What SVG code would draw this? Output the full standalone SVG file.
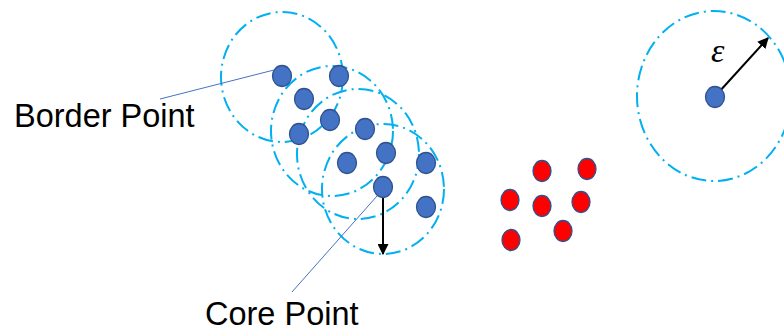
<svg xmlns="http://www.w3.org/2000/svg" width="784" height="332" viewBox="0 0 784 332">
<defs>
<style>
.rng{fill:none;stroke:#00B0F0;stroke-width:2;stroke-dasharray:15 5 2 5}
.bp{fill:#4472C4;stroke:#2F528F;stroke-width:1.3}
.rp{fill:#FF0000;stroke:#2F528F;stroke-width:1.3}
.lead{stroke:#4472C4;stroke-width:1}
.arr{stroke:#000;stroke-width:2;fill:none}
.lbl{font-family:"Liberation Sans",Arial,sans-serif;font-size:32.5px;fill:#000}
</style>
<marker id="ah" viewBox="0 0 10 10" refX="9" refY="5" markerWidth="5.5" markerHeight="5.5" orient="auto" markerUnits="strokeWidth">
<path d="M0,0 L10,5 L0,10 z" fill="#000"/>
</marker>
</defs>
<g id="ranges">
<ellipse class="rng" cx="282" cy="77" rx="61" ry="65"/>
<ellipse class="rng" cx="332" cy="131" rx="61" ry="65"/>
<ellipse class="rng" cx="358" cy="154" rx="61" ry="65"/>
<ellipse class="rng" cx="383" cy="189" rx="61" ry="65"/>
<ellipse class="rng" cx="714" cy="96" rx="77" ry="85"/>
</g>
<g id="connectors">
<line class="lead" x1="160" y1="99" x2="274" y2="70"/>
<line class="lead" x1="292" y1="292" x2="377" y2="196"/>
<line class="arr" x1="383" y1="197" x2="383" y2="254" marker-end="url(#ah)"/>
<line class="arr" x1="719" y1="92" x2="768" y2="38" marker-end="url(#ah)"/>
</g>
<g id="cluster-points">
<ellipse class="bp" cx="282" cy="76" rx="9.5" ry="10.5"/>
<ellipse class="bp" cx="339" cy="76" rx="9.5" ry="10.5"/>
<ellipse class="bp" cx="304" cy="99" rx="9.5" ry="10.5"/>
<ellipse class="bp" cx="330" cy="120" rx="9.5" ry="10.5"/>
<ellipse class="bp" cx="299" cy="134" rx="9.5" ry="10.5"/>
<ellipse class="bp" cx="365" cy="129" rx="9.5" ry="10.5"/>
<ellipse class="bp" cx="386" cy="153" rx="9.5" ry="10.5"/>
<ellipse class="bp" cx="347" cy="163" rx="9.5" ry="10.5"/>
<ellipse class="bp" cx="426" cy="163" rx="9.5" ry="10.5"/>
<ellipse class="bp" cx="383" cy="187" rx="9.5" ry="10.5"/>
<ellipse class="bp" cx="426" cy="207" rx="9.5" ry="10.5"/>
</g>
<g id="noise-points">
<ellipse class="rp" cx="542" cy="171" rx="9" ry="10.5"/>
<ellipse class="rp" cx="587" cy="169" rx="9" ry="10.5"/>
<ellipse class="rp" cx="510" cy="200" rx="9" ry="10.5"/>
<ellipse class="rp" cx="542" cy="206" rx="9" ry="10.5"/>
<ellipse class="rp" cx="581" cy="202" rx="9" ry="10.5"/>
<ellipse class="rp" cx="563" cy="231" rx="9" ry="10.5"/>
<ellipse class="rp" cx="511" cy="240" rx="9" ry="10.5"/>
</g>
<g id="epsilon-point">
<ellipse class="bp" cx="715" cy="97" rx="9.5" ry="10.5"/>
<text x="711" y="62" font-family="'Liberation Serif',serif" font-style="italic" font-size="34" fill="#000">ε</text>
</g>
<g id="label-border">
<text class="lbl" x="14" y="127">Border Point</text>
</g>
<g id="label-core">
<text class="lbl" x="205" y="325">Core Point</text>
</g>
</svg>
